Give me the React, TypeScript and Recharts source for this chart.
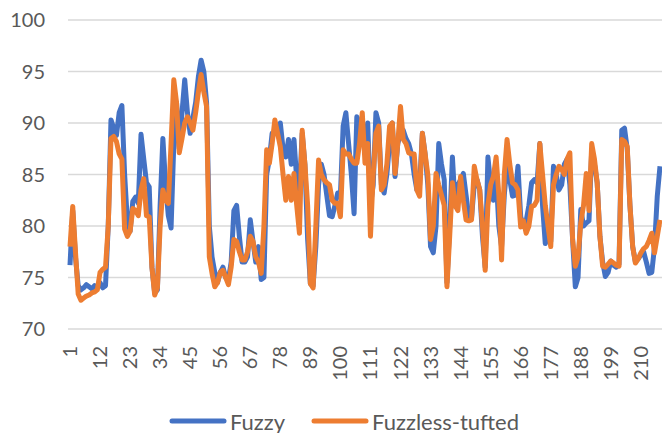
import { LineChart, Line, XAxis, YAxis, CartesianGrid, Legend } from 'recharts';

const categories = Array.from({ length: 217 }, (_, i) => String(i + 1));

const fuzzy = [
  76.2, 81.5, 77.0, 74.2, 73.8, 74.0, 74.3, 74.1, 73.9, 74.2,
  74.0, 74.5, 74.0, 74.2, 80.0, 90.3, 89.5, 88.8, 91.0, 91.7,
  85.0, 80.5, 79.5, 82.4, 82.8, 82.2, 88.9, 86.5, 84.2, 83.8,
  76.0, 73.5, 73.8, 82.0, 88.5, 84.0, 81.0, 79.8, 88.0, 92.0,
  87.5, 91.0, 94.2, 91.0, 89.0, 90.5, 92.0, 94.5, 96.1, 95.0,
  92.0, 80.0, 77.0, 75.5, 74.5, 75.5, 76.0, 75.0, 74.8, 76.5,
  81.5, 82.0, 79.0, 76.5, 76.5, 77.0, 80.6, 78.5, 76.5, 78.0,
  74.8, 75.0, 85.0, 86.5, 89.0, 89.0, 89.5, 90.0, 87.5, 86.7,
  88.4, 86.0, 88.4, 84.5, 83.5, 89.0, 86.0, 78.7, 74.4, 74.2,
  78.0, 84.0, 86.0, 85.0, 83.0, 81.0, 80.9, 82.0, 83.2, 83.0,
  89.7, 91.0, 88.0, 85.0, 81.2, 90.6, 90.0, 88.0, 88.4, 90.0,
  82.0, 84.0, 91.0, 90.0, 84.0, 83.2, 85.0, 88.0, 90.0, 84.8,
  88.0, 89.0, 89.3, 88.5, 88.0, 87.0, 85.0, 83.5, 84.0, 89.0,
  87.0, 84.0, 78.0, 77.4, 80.0, 88.0, 86.0, 84.5, 74.5, 80.0,
  86.7, 81.9, 84.0, 84.5, 85.1, 83.0, 80.9, 80.8, 84.0, 84.5,
  83.5, 79.0, 76.0, 86.7, 84.0, 82.5, 85.0, 80.0, 78.0, 83.0,
  86.0, 84.5, 82.9, 83.0, 85.8, 80.9, 80.0, 80.5, 82.0, 84.2,
  84.5, 84.2, 88.0, 82.0, 78.3, 79.0, 78.5, 85.8, 85.0, 83.5,
  84.0, 86.0, 86.5, 84.0, 78.7, 74.1, 75.0, 81.6, 80.0, 80.3,
  80.5, 87.4, 86.0, 84.2, 79.0, 76.5, 75.1, 75.5, 76.6, 76.2,
  76.0, 76.3, 89.3, 89.5, 87.5, 82.0, 78.0, 76.5, 76.8, 77.2,
  77.5, 76.5, 75.4, 75.5, 78.0, 82.9, 85.8,
];

const fuzzlessTufted = [
  78.0, 81.9, 77.5, 73.4, 72.8, 73.0, 73.2, 73.3, 73.5, 73.6,
  73.8, 75.5, 75.8, 76.0, 80.0, 88.5, 88.7, 88.2, 87.0, 86.5,
  79.7, 79.0, 79.5, 81.7, 81.5, 81.0, 83.5, 84.6, 81.0, 80.9,
  76.0, 73.3, 74.0, 80.0, 83.5, 82.5, 82.2, 88.0, 94.2, 92.0,
  87.1, 88.5, 90.0, 90.6, 90.0, 89.3, 91.0, 93.0, 94.7, 93.0,
  91.6, 77.0, 75.4, 74.1, 74.5, 75.5, 75.7, 75.0, 74.3, 76.0,
  78.7, 78.5, 77.5, 76.7, 76.7, 77.5, 79.0, 78.5, 77.0, 76.5,
  75.4, 80.0, 87.4, 86.1, 88.0, 90.3, 89.0, 87.7, 85.0, 82.5,
  84.8, 82.5, 85.1, 82.0, 79.3, 89.3, 86.0, 82.0, 74.4, 74.0,
  80.0, 86.4, 85.0, 84.5, 84.2, 84.0, 82.5, 82.2, 82.2, 80.9,
  87.4, 87.0, 87.0, 86.5, 86.1, 86.1, 88.0, 91.0, 86.1, 88.0,
  79.0, 85.0, 89.0, 89.7, 83.5, 84.0, 86.0, 89.7, 90.0, 85.1,
  88.0, 91.6, 88.4, 88.0, 87.1, 87.0, 87.0, 83.5, 82.9, 89.0,
  87.0, 85.0, 78.7, 80.0, 85.1, 84.0, 83.0, 82.0, 74.1, 79.0,
  84.2, 82.0, 81.5, 84.8, 82.5, 80.6, 80.5, 80.6, 85.8, 84.5,
  83.5, 80.0, 75.7, 82.0, 84.0, 84.8, 86.7, 83.0, 76.7, 85.0,
  88.4, 86.0, 84.2, 84.0, 83.5, 79.9, 80.5, 79.3, 80.0, 81.9,
  82.0, 82.5, 88.0, 85.0, 82.0, 80.0, 78.0, 84.0, 85.0, 85.8,
  85.5, 85.0, 86.5, 87.1, 78.7, 76.1, 77.0, 80.3, 82.0, 85.1,
  81.5, 88.0, 86.5, 84.2, 79.0, 76.1, 76.0, 76.3, 76.6, 76.4,
  76.2, 76.1, 88.4, 88.2, 87.7, 82.0, 78.0, 76.4, 76.8, 77.4,
  77.8, 78.0, 78.6, 79.3, 77.4, 79.0, 80.6,
];

const yTicks = [70, 75, 80, 85, 90, 95, 100];

const data = categories.map((name, i) => ({
  name,
  fuzzy: fuzzy[i],
  fuzzlessTufted: fuzzlessTufted[i],
}));

const FONT = 'Lato, "Open Sans", sans-serif';
const TEXT = '#595959';

const XTick = ({ x, y, payload }: any) => (
  <text
    x={x}
    y={y + 17}
    transform={`rotate(-90, ${x}, ${y + 17})`}
    textAnchor="end"
    dy="0.35em"
    fill={TEXT}
    fontSize={20}
    fontFamily={FONT}
  >
    {payload.value}
  </text>
);

const LegendBox = () => (
  <div style={{ height: 44, paddingTop: 20, paddingLeft: 26, display: 'flex', justifyContent: 'center', alignItems: 'center', fontFamily: FONT, fontSize: 22, color: TEXT, boxSizing: 'border-box' }}>
    {[
      { label: 'Fuzzy', color: '#4472C4' },
      { label: 'Fuzzless-tufted', color: '#ED7D31' },
    ].map((item, k) => (
      <div key={item.label} style={{ display: 'flex', alignItems: 'center', marginLeft: k ? 26 : 0, height: 24 }}>
        <svg width={58} height={10} style={{ marginRight: 3 }}>
          <line x1={3} y1={5} x2={55} y2={5} stroke={item.color} strokeWidth={5} strokeLinecap="round" />
        </svg>
        <span>{item.label}</span>
      </div>
    ))}
  </div>
);

export default function App() {
  return (
    <div style={{ position: 'absolute', left: 0, top: 0, background: '#fff' }}>
      <LineChart width={662} height={433} data={data} margin={{ top: 20, right: 0, left: 0, bottom: 0 }}>
        <CartesianGrid vertical={false} stroke="#d9d9d9" strokeWidth={1.5} />
        <XAxis
          dataKey="name"
          interval={10}
          axisLine={false}
          tickLine={false}
          tickSize={0}
          tickMargin={0}
          height={60}
          padding={{ left: 2, right: 2 }}
          tick={<XTick />}
        />
        <YAxis
          domain={[70, 100]}
          ticks={yTicks}
          width={68}
          axisLine={false}
          tickLine={false}
          tickSize={0}
          tickMargin={23}
          tick={{ fill: TEXT, fontSize: 20, fontFamily: FONT }}
        />
        <Legend verticalAlign="bottom" content={<LegendBox />} />
        <Line type="linear" dataKey="fuzzy" name="Fuzzy" stroke="#4472C4" strokeWidth={5} strokeLinejoin="round" dot={false} isAnimationActive={false} />
        <Line type="linear" dataKey="fuzzlessTufted" name="Fuzzless-tufted" stroke="#ED7D31" strokeWidth={5} strokeLinejoin="round" dot={false} isAnimationActive={false} />
      </LineChart>
    </div>
  );
}
